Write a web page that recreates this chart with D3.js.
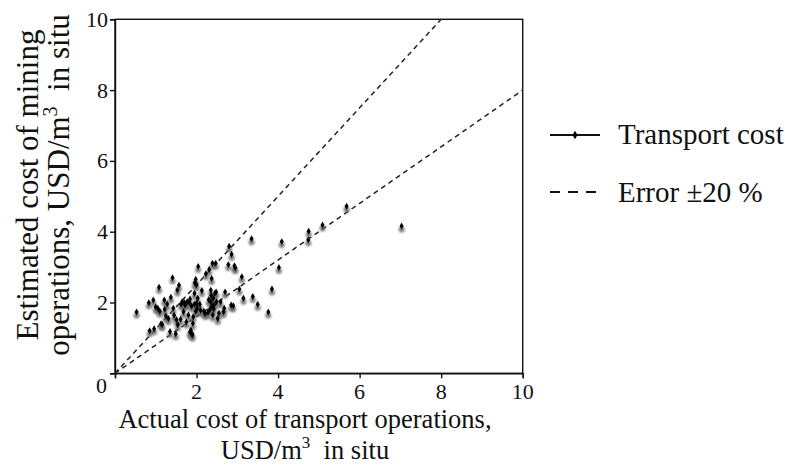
<!DOCTYPE html>
<html>
<head>
<meta charset="utf-8">
<script src="https://cdn.jsdelivr.net/npm/d3@7/dist/d3.min.js"></script>
<style>
  html, body { margin: 0; padding: 0; background: #fff; }
  svg { display: block; }
  text { font-family: "Liberation Serif", "Times New Roman", serif; fill: #111; }
</style>
</head>
<body>
<svg id="chart" width="785" height="465"></svg>
<script>
// Actual transport cost (x) and estimated cost (y), USD/m3
const actualCost = [0.53,0.83,0.94,0.85,0.96,1.08,1.00,1.05,1.13,1.16,1.21,1.22,1.28,1.31,1.35,1.37,1.41,1.43,1.45,1.49,
  1.53,1.57,1.54,1.51,1.61,1.65,1.68,1.70,1.72,1.77,1.80,1.84,1.86,1.88,1.90,1.84,1.91,1.92,1.95,1.96,
  1.98,2.00,2.02,2.04,2.03,2.00,1.95,1.98,2.13,2.21,2.18,2.23,2.31,2.35,2.35,2.37,2.39,2.40,2.41,2.43,
  2.45,2.47,2.49,2.52,2.48,2.59,2.66,2.68,2.70,2.78,2.80,2.85,2.86,2.90,2.93,2.95,3.05,3.11,3.15,3.35,
  3.38,3.50,3.76,3.85,4.02,4.09,4.75,4.74,5.09,5.68,7.03,2.33,2.38,2.30,2.42,2.28,1.75,1.62,1.88,2.08,
  2.10,1.25,1.10,2.55,1.82,2.36];
const estimatedCost = [1.73,1.99,2.07,1.20,1.26,2.43,1.87,1.84,1.40,1.38,2.07,1.81,1.96,1.55,1.18,2.15,2.70,1.84,1.64,1.12,
  2.35,2.49,1.37,1.51,1.53,2.02,1.74,2.00,1.93,2.02,1.65,2.10,1.22,1.13,1.08,1.17,1.41,1.60,2.26,2.56,
  2.66,1.98,1.84,3.02,2.12,2.50,1.95,1.75,2.34,1.69,1.75,2.81,2.93,2.02,2.35,2.68,3.11,1.65,2.12,1.93,
  2.26,3.11,2.02,1.55,2.30,2.02,1.74,1.84,2.30,3.07,3.59,1.93,3.36,1.91,3.04,2.98,2.38,2.73,2.12,3.80,
  2.17,1.95,1.73,2.38,2.99,3.72,4.01,3.77,4.19,4.72,4.16,1.80,1.90,2.08,1.82,1.72,1.45,1.96,1.90,1.95,
  1.78,1.62,1.75,1.70,2.00,2.20];
const xTicks = [2, 4, 6, 8, 10];
const yTicks = [2, 4, 6, 8, 10];
const errorBounds = [1.25, 0.8]; // slopes of the ±20 % lines
const legendLabels = ["Transport cost", "Error \u00B120 %"];

const svg = d3.select("#chart");
svg.append("rect").attr("width", 785).attr("height", 465).attr("fill", "#fff");

const defs = svg.append("defs");
defs.append("filter").attr("id", "blur").attr("x", "-100%").attr("y", "-100%").attr("width", "300%").attr("height", "300%")
  .append("feGaussianBlur").attr("stdDeviation", 1.3);

const x = d3.scaleLinear().domain([0, 10]).range([115, 522.7]);
const y = d3.scaleLinear().domain([0, 10]).range([373.3, 19.3]);

// frame
svg.append("rect")
  .attr("x", x(0)).attr("y", y(10))
  .attr("width", x(10) - x(0)).attr("height", y(0) - y(10))
  .attr("fill", "none").attr("stroke", "#111").attr("stroke-width", 1.4);

// axes
const xAxis = d3.axisBottom(x).tickValues([0].concat(xTicks)).tickSize(5).tickFormat("");
const gx = svg.append("g").attr("transform", `translate(0,${y(0)})`).call(xAxis);
const yAxis = d3.axisLeft(y).tickValues([0].concat(yTicks)).tickSize(5).tickFormat("");
const gy = svg.append("g").attr("transform", `translate(${x(0)},0)`).call(yAxis);
[gx, gy].forEach(g => {
  g.select(".domain").attr("stroke", "#111").attr("stroke-width", 1.4);
  g.selectAll(".tick line").attr("stroke", "#111").attr("stroke-width", 1.4);
});

// tick labels
svg.append("g").selectAll("text").data(xTicks).join("text")
  .attr("x", d => x(d)).attr("y", y(0) + 26)
  .attr("text-anchor", "middle").attr("font-size", 22).text(d => d);
svg.append("g").selectAll("text").data(yTicks).join("text")
  .attr("x", x(0) - 7).attr("y", d => y(d) + 7.5)
  .attr("text-anchor", "end").attr("font-size", 22).text(d => d);
svg.append("text").attr("x", x(0) - 8).attr("y", y(0) + 20)
  .attr("text-anchor", "end").attr("font-size", 22).text("0");

// error lines
svg.append("g").selectAll("line").data(errorBounds).join("line")
  .attr("x1", x(0)).attr("y1", y(0))
  .attr("x2", k => x(Math.min(10, 10 / k)))
  .attr("y2", k => y(Math.min(10, 10 / k) * k))
  .attr("stroke", "#222").attr("stroke-width", 1.5).attr("stroke-dasharray", "5,4");

// points
const pts = actualCost.map((v, i) => [v, estimatedCost[i]]);
svg.append("g").selectAll("circle").data(pts).join("circle")
  .attr("cx", d => x(d[0])).attr("cy", d => y(d[1]) + 3.5).attr("r", 3)
  .attr("fill", "#666").attr("opacity", 0.85).attr("filter", "url(#blur)");
svg.append("g").selectAll("path").data(pts).join("path")
  .attr("transform", d => `translate(${x(d[0])},${y(d[1])})`)
  .attr("d", d3.symbol(d3.symbolDiamond, 14))
  .attr("fill", "#000");

// axis titles
const xt = svg.append("text").attr("text-anchor", "middle").attr("font-size", 26.5);
xt.append("tspan").attr("x", 305).attr("y", 428).text("Actual cost of transport operations,");
const xt2 = svg.append("text").attr("text-anchor", "middle").attr("font-size", 26.5);
xt2.append("tspan").attr("x", 305).attr("y", 459).text("USD/m");
xt2.append("tspan").attr("font-size", 17).attr("dy", -11).text("3");
xt2.append("tspan").attr("dy", 11).text("\u00A0 in situ");

const yg = svg.append("g").attr("transform", "translate(0,185) rotate(-90)");
const yt = yg.append("text").attr("text-anchor", "middle").attr("font-size", 31);
yt.append("tspan").attr("x", 0).attr("y", 38).text("Estimated cost of mining");
const yt2 = yg.append("text").attr("text-anchor", "middle").attr("font-size", 31);
yt2.append("tspan").attr("x", 0).attr("y", 69).text("operations, USD/m");
yt2.append("tspan").attr("font-size", 20).attr("dy", -12).text("3");
yt2.append("tspan").attr("dy", 12).text("\u00A0 in situ");

// legend
const lg = svg.append("g");
lg.append("line").attr("x1", 550).attr("x2", 600).attr("y1", 135).attr("y2", 135)
  .attr("stroke", "#111").attr("stroke-width", 2);
lg.append("path").attr("transform", "translate(575,135)").attr("d", d3.symbol(d3.symbolDiamond, 22)).attr("fill", "#000");
lg.append("line").attr("x1", 550).attr("x2", 602).attr("y1", 192).attr("y2", 192)
  .attr("stroke", "#111").attr("stroke-width", 2).attr("stroke-dasharray", "10,8");
lg.selectAll("text").data(legendLabels).join("text")
  .attr("x", 618).attr("y", (d, i) => 144 + i * 58).attr("font-size", 29).text(d => d);
</script>
</body>
</html>
